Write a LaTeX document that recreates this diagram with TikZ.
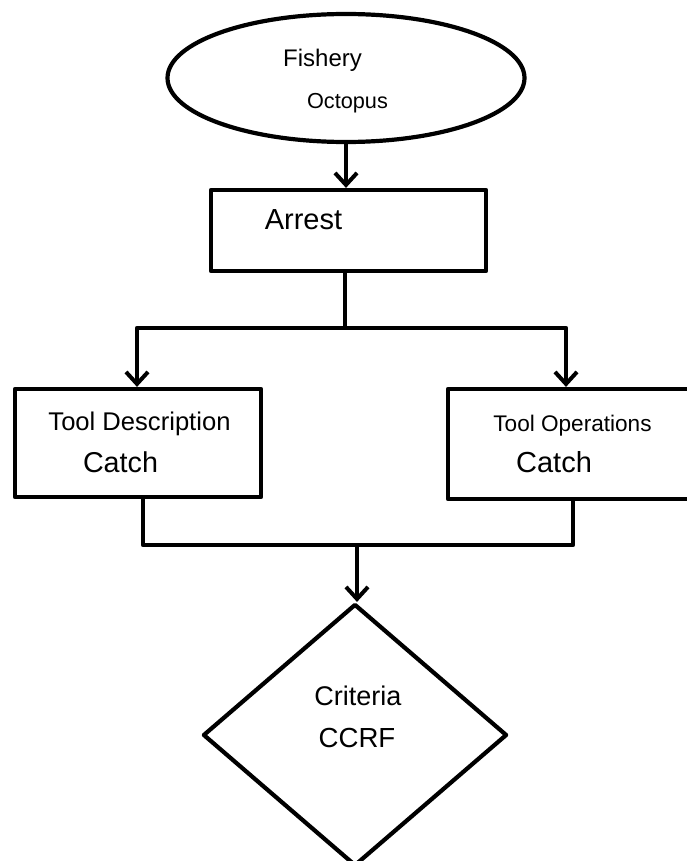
\documentclass[tikz,border=0pt]{standalone}
\usepackage{fontspec}
\setmainfont{Liberation Sans}
\usepackage{tikz}
\usetikzlibrary{shapes.geometric,arrows.meta}

\begin{document}
\begin{tikzpicture}[x=1pt,y=-1pt,line width=4.2pt,line join=round,
    box/.style={draw,rectangle,inner sep=0pt},
    lbl/.style={anchor=base,inner sep=0pt},
    flow/.style={-{Straight Barb[length=12pt,width=22pt,line width=4pt]}}]
            \useasboundingbox (0,0) rectangle (687,861);
            \node[draw,ellipse,inner sep=0pt,minimum width=357pt,minimum height=128pt] (fishery) at (346,78) {};
            \node[box,minimum width=275pt,minimum height=81pt] (arrest) at (348.5,230.5) {};
            \node[box,minimum width=246pt,minimum height=108pt] (desc) at (138,443) {};
            \node[box,minimum width=272pt,minimum height=110pt] (oper) at (584,444) {};
            \node[draw,diamond,inner sep=0pt,minimum width=304pt,minimum height=262pt] (crit) at (355,735) {};
            % texts
            \node[lbl,font=\fontsize{24}{28}\selectfont] at (322.5,66.7) {Fishery};
            \node[lbl,font=\fontsize{21.7}{26}\selectfont] at (347.5,109) {Octopus};
            \node[lbl,font=\fontsize{29}{34}\selectfont] at (303.5,229) {Arrest};
            \node[lbl,font=\fontsize{25.6}{30}\selectfont] at (139.5,430) {Tool Description};
            \node[lbl,font=\fontsize{28.7}{34}\selectfont] at (120.5,472) {Catch};
            \node[lbl,font=\fontsize{22.6}{27}\selectfont] at (572.5,431) {Tool Operations};
            \node[lbl,font=\fontsize{29}{34}\selectfont] at (554,472) {Catch};
            \node[lbl,font=\fontsize{27}{32}\selectfont] at (358,705) {Criteria};
            \node[lbl,font=\fontsize{27.6}{32}\selectfont] at (357,747) {CCRF};
            % connectors
            \coordinate (split) at (345,328);
            \coordinate (join) at (357,545);
            \draw[flow] (fishery.south) -- (fishery.south |- arrest.north);
            \draw (arrest.south -| split) -- (split);
            \draw[flow] (split) -| ([xshift=-1pt]desc.north);
            \draw[flow] (split) -| ([xshift=-18pt]oper.north);
            \draw ([xshift=5pt]desc.south) |- (join);
            \draw ([xshift=-11pt]oper.south) |- (join);
            \draw[flow] (join) -- (join |- crit.north);
\end{tikzpicture}
\end{document}
